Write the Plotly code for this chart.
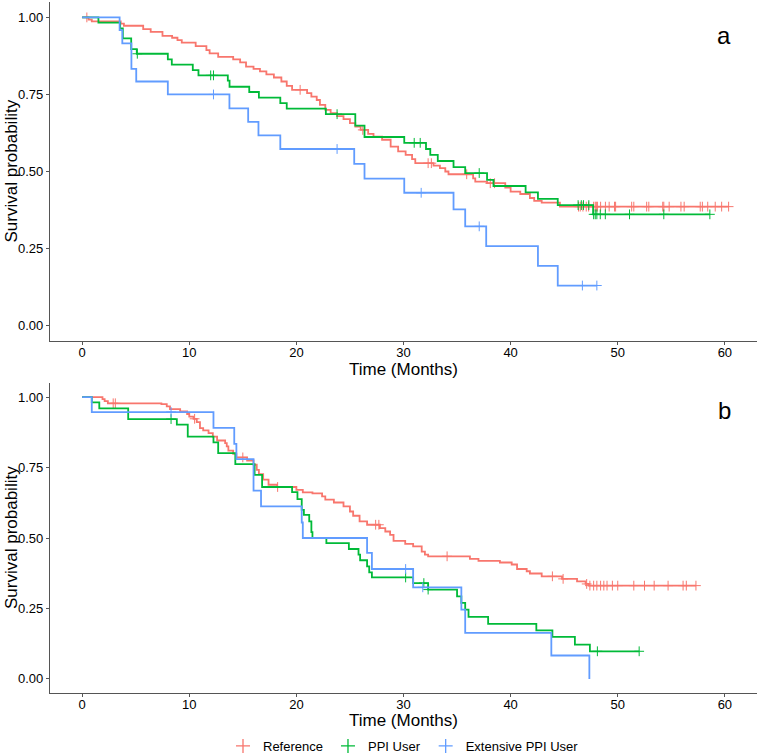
import numpy as np
import plotly.graph_objects as go

# ---------------- DATA ----------------
groups = ["Reference", "PPI User", "Extensive PPI User"]
colors = ["#F8766D", "#00BA38", "#619CFF"]
x_ticks = [0, 10, 20, 30, 40, 50, 60]
y_ticks = [0.0, 0.25, 0.5, 0.75, 1.0]
y_tick_labels = ["0.00", "0.25", "0.50", "0.75", "1.00"]
x_title = "Time (Months)"
y_title = "Survival probability"
panel_labels = ["a", "b"]

# Panel a
a_ref_t = [0, 0.6, 0.9, 3.6, 3.9, 5.7, 6.4, 7.5, 8.4, 8.9, 9.3, 10.6, 11.6, 11.9, 12.7, 14.1, 14.75, 15.3,
           16.0, 16.6, 17.2, 17.9, 18.6, 19.1, 19.6, 21.0, 21.4, 21.9, 22.2, 22.7, 23.2, 23.8, 24.4, 25.0,
           25.5, 26.0, 26.7, 27.2, 28.0, 28.8, 29.5, 30.2, 30.8, 31.1, 32.8, 33.4, 33.9, 34.2, 36.5, 36.7,
           37.8, 39.5, 40.0, 40.9, 41.8, 42.2, 42.9, 44.6]
a_ref_s = [1.0, 0.993, 0.987, 0.98, 0.973, 0.962, 0.953, 0.940, 0.934, 0.926, 0.918, 0.907, 0.894, 0.883,
           0.872, 0.864, 0.854, 0.840, 0.833, 0.825, 0.815, 0.805, 0.792, 0.778, 0.765, 0.754, 0.743, 0.732,
           0.716, 0.700, 0.689, 0.680, 0.670, 0.657, 0.646, 0.635, 0.622, 0.613, 0.603, 0.581, 0.565, 0.554,
           0.540, 0.527, 0.519, 0.511, 0.500, 0.491, 0.478, 0.467, 0.462, 0.448, 0.435, 0.427, 0.414, 0.405,
           0.399, 0.386]
a_ref_end = 60.35
a_ref_cens = [0.44, 20.35, 26.2, 32.3, 32.6, 35.9, 38.1, 38.5, 46.34, 46.5, 46.75, 47.06, 47.28, 47.75, 47.9,
              48.0, 48.1, 48.4, 48.85, 49.2, 49.7, 49.8, 51.3, 51.5, 52.7, 52.9, 54.2, 54.3, 54.8, 55.9,
              56.2, 57.7, 57.9, 58.4, 59.1, 59.7, 60.35]

a_ppi_t = [0, 1.52, 3.55, 3.8, 4.58, 5.1, 8.0, 8.37, 10.33, 10.86, 13.6, 13.76, 15.6, 16.5, 18.5, 19.1,
           22.75, 25.5, 26.36, 30.07, 32.1, 32.5, 33.2, 34.67, 35.76, 37.8, 38.4, 41.4, 42.55, 44.4, 47.7]
a_ppi_s = [1.0, 0.983, 0.964, 0.932, 0.897, 0.882, 0.864, 0.847, 0.829, 0.812, 0.795, 0.775, 0.758, 0.740,
           0.722, 0.704, 0.686, 0.649, 0.612, 0.593, 0.573, 0.554, 0.534, 0.514, 0.495, 0.473, 0.453, 0.432,
           0.411, 0.391, 0.361]
a_ppi_end = 58.6
a_ppi_cens = [5.15, 12.0, 12.26, 23.8, 31.0, 31.56, 37.07, 46.3, 46.6, 46.8, 47.3, 47.75, 47.9, 48.05,
              48.37, 48.84, 51.1, 54.3, 58.6]

a_ext_t = [0, 3.5, 3.75, 4.6, 5.05, 8.0, 13.75, 15.5, 16.46, 18.5, 25.4, 26.36, 30.07, 34.67, 35.76, 37.72,
           42.55, 44.4]
a_ext_s = [1.0, 0.959, 0.916, 0.833, 0.792, 0.75, 0.705, 0.661, 0.617, 0.573, 0.525, 0.477, 0.431, 0.377,
           0.322, 0.258, 0.194, 0.130]
a_ext_end = 48.05
a_ext_cens = [12.26, 23.8, 31.65, 37.07, 46.7, 48.05]

# Panel b
b_ref_t = [0, 1.9, 2.1, 2.4, 7.4, 7.9, 8.2, 9.15, 9.8, 10.0, 10.4, 10.7, 11.0, 11.3, 11.8, 12.2, 12.6, 13.35,
           13.5, 13.65, 14.1, 14.4, 15.4, 16.0, 16.3, 16.5, 16.9, 17.4, 18.2, 20.0, 20.6, 21.5, 22.4, 22.7,
           23.5, 24.4, 25.0, 25.3, 25.9, 26.6, 27.8, 28.3, 28.75, 29.07, 30.16, 30.9, 31.7, 32.0, 32.3, 36.2,
           37.0, 39.0, 40.1, 40.6, 41.5, 41.8, 42.9, 44.8, 46.2, 47.0, 47.3]
b_ref_s = [1.0, 0.993, 0.986, 0.978, 0.975, 0.967, 0.957, 0.949, 0.940, 0.931, 0.923, 0.911, 0.890, 0.882,
           0.872, 0.860, 0.846, 0.837, 0.825, 0.810, 0.799, 0.786, 0.775, 0.760, 0.742, 0.727, 0.707, 0.689,
           0.681, 0.671, 0.662, 0.658, 0.648, 0.636, 0.626, 0.612, 0.594, 0.579, 0.559, 0.547, 0.535, 0.523,
           0.511, 0.490, 0.479, 0.470, 0.452, 0.441, 0.435, 0.426, 0.419, 0.413, 0.406, 0.390, 0.382, 0.374,
           0.364, 0.355, 0.346, 0.337, 0.331]
b_ref_end = 57.3
b_ref_cens = [2.9, 3.1, 10.5, 15.0, 18.25, 27.4, 27.7, 34.07, 43.9, 44.9, 47.1, 47.4, 47.75, 48.05, 48.4,
              48.7, 49.0, 49.5, 50.0, 51.5, 52.5, 53.4, 54.7, 56.1, 56.4, 57.3]

b_ppi_t = [0, 0.9, 1.6, 4.3, 8.84, 9.86, 12.26, 12.7, 14.3, 16.1, 16.8, 19.6, 20.1, 20.5, 20.7, 21.2, 21.4,
           21.5, 22.8, 24.9, 25.8, 25.95, 26.6, 26.8, 27.05, 30.9, 32.3, 35.0, 35.4, 35.76, 36.07, 37.9, 42.4,
           43.9, 46.0, 47.4]
b_ppi_s = [1.0, 0.981, 0.960, 0.922, 0.902, 0.860, 0.839, 0.801, 0.762, 0.724, 0.681, 0.663, 0.638, 0.600,
           0.582, 0.559, 0.521, 0.500, 0.482, 0.461, 0.441, 0.421, 0.399, 0.378, 0.360, 0.340, 0.317, 0.293,
           0.270, 0.246, 0.220, 0.195, 0.172, 0.149, 0.122, 0.098]
b_ppi_end = 52.0
b_ppi_cens = [8.3, 30.2, 31.9, 32.3, 48.1, 52.0]

b_ext_t = [0, 0.9, 12.26, 14.2, 14.4, 16.0, 16.7, 20.5, 20.6, 26.6, 27.05, 30.9, 35.4, 35.76, 43.8, 47.35]
b_ext_s = [1.0, 0.947, 0.891, 0.834, 0.780, 0.668, 0.612, 0.555, 0.500, 0.447, 0.390, 0.325, 0.246, 0.163,
           0.083, 0.0]
b_ext_end = 47.35
b_ext_cens = [8.3, 30.2, 31.8]

panels = [
    [(a_ref_t, a_ref_s, a_ref_end, a_ref_cens),
     (a_ppi_t, a_ppi_s, a_ppi_end, a_ppi_cens),
     (a_ext_t, a_ext_s, a_ext_end, a_ext_cens)],
    [(b_ref_t, b_ref_s, b_ref_end, b_ref_cens),
     (b_ppi_t, b_ppi_s, b_ppi_end, b_ppi_cens),
     (b_ext_t, b_ext_s, b_ext_end, b_ext_cens)],
]

# ---------------- FIGURE ----------------
FONT = "Liberation Sans, Arial, sans-serif"
fig = go.Figure()

axis_names = [("x", "y"), ("x2", "y2")]
for series, (xa, ya) in zip(panels, axis_names):
    for (t, s, end, cens), col, name in zip(series, colors, groups):
        t = np.asarray(t, float)
        s = np.asarray(s, float)
        fig.add_trace(go.Scatter(
            x=np.append(t, end), y=np.append(s, s[-1]), mode="lines",
            line=dict(color=col, width=1.8, shape="hv"),
            xaxis=xa, yaxis=ya, showlegend=False, hoverinfo="skip"))
        c = np.asarray(cens, float)
        idx = np.searchsorted(t, c, side="right") - 1
        fig.add_trace(go.Scatter(
            x=c, y=s[idx], mode="markers",
            marker=dict(symbol="cross-thin", size=7, line=dict(color=col, width=1)),
            xaxis=xa, yaxis=ya, showlegend=False, hoverinfo="skip"))

# legend-only entries
for col, name in zip(colors, groups):
    fig.add_trace(go.Scatter(
        x=[None], y=[None], mode="markers", name=name,
        marker=dict(symbol="cross-thin", size=10, line=dict(color=col, width=1.3)),
        xaxis="x2", yaxis="y2"))

W, H = 760, 754
ml, mr, mt, mb = 50, 3, 2, 61
pw = W - ml - mr
ph = H - mt - mb
top_px = (2, 341)
bot_px = (383, 693)
def py(p):
    return (H - mb - p) / ph
def px(p):
    return (p - ml) / pw

top_dom = [py(top_px[1]), py(top_px[0])]
bot_dom = [py(bot_px[1]), py(bot_px[0])]

AX = "#555555"
xax = dict(range=[-3, 63], tickvals=x_ticks, showline=True, linecolor=AX, linewidth=1.2,
           ticks="outside", ticklen=3, tickcolor=AX, tickwidth=1, automargin=False,
           showgrid=False, zeroline=False, ticklabelstandoff=-4,
           tickfont=dict(family=FONT, size=13, color="black"))
yax = dict(range=[-0.05, 1.05], tickvals=y_ticks, ticktext=y_tick_labels, showline=True,
           linecolor=AX, linewidth=1.2, ticks="outside", ticklen=3, tickcolor=AX, tickwidth=1,
           automargin=False, showgrid=False, zeroline=False,
           tickfont=dict(family=FONT, size=13, color="black"))

title_font = dict(family=FONT, size=17, color="black")
annotations = []
for (y0, y1), lab, xt_y, lab_y in [(top_px, panel_labels[0], 369, 35), (bot_px, panel_labels[1], 721, 411)]:
    annotations.append(dict(text=x_title, x=0.5, y=py(xt_y), xref="paper", yref="paper", showarrow=False,
                            font=title_font, xanchor="center", yanchor="middle"))
    annotations.append(dict(text=y_title, x=px(11), y=py((y0 + y1) / 2), xref="paper", yref="paper",
                            showarrow=False, textangle=-90, font=title_font, xanchor="center", yanchor="middle"))
    annotations.append(dict(text=lab, x=px(724), y=py(lab_y), xref="paper", yref="paper", showarrow=False,
                            font=dict(family=FONT, size=24, color="black"), xanchor="center", yanchor="middle"))

fig.update_layout(
    width=W, height=H,
    margin=dict(l=ml, r=mr, t=mt, b=mb, autoexpand=False),
    paper_bgcolor="white", plot_bgcolor="white",
    xaxis=dict(xax, domain=[0, 1], anchor="y"),
    yaxis=dict(yax, domain=top_dom, anchor="x"),
    xaxis2=dict(xax, domain=[0, 1], anchor="y2"),
    yaxis2=dict(yax, domain=bot_dom, anchor="x2"),
    legend=dict(orientation="h", x=0.5, xanchor="center", y=py(746), yanchor="middle",
                font=dict(family=FONT, size=13, color="black"), itemwidth=30, tracegroupgap=0),
    annotations=annotations,
)

fig.write_html("out.html", config={"displayModeBar": False},
               post_script="document.body.style.margin='0';document.body.style.overflow='hidden';")
